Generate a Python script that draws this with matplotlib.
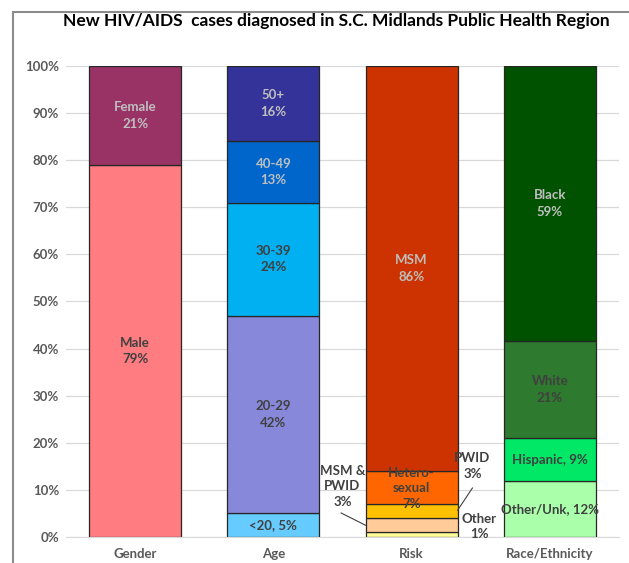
import matplotlib
matplotlib.use('Agg')
import matplotlib.pyplot as plt
from matplotlib.patches import Rectangle
import numpy as np

plt.rcParams['font.family'] = ['Lato', 'DejaVu Sans']

# categories on the x axis
categories = ['Gender', 'Age', 'Risk', 'Race/Ethnicity']

# stacked segments for each category, bottom to top (percent of cases)
gender_values = [79, 21]
gender_labels = ['Male\n79%', 'Female\n21%']
gender_colors = ['#FF7C80', '#993366']
gender_text = ['#404040', '#BFBFBF']

age_values = [5, 42, 24, 13, 16]
age_labels = ['<20, 5%', '20-29\n42%', '30-39\n24%', '40-49\n13%', '50+\n16%']
age_colors = ['#66CCFF', '#8888DA', '#00B0F0', '#0066CC', '#333399']
age_text = ['#404040', '#404040', '#404040', '#BFBFBF', '#BFBFBF']

risk_values = [1, 3, 3, 7, 86]
risk_labels = ['Other\n1%', 'MSM &\nPWID\n3%', 'PWID\n3%', 'Hetero-\nsexual\n7%', 'MSM\n86%']
risk_colors = ['#FFFF99', '#FFCC99', '#FFC000', '#FF6600', '#CC3300']
risk_text = ['#404040', '#404040', '#404040', '#404040', '#BFBFBF']

race_values = [11.9, 9.1, 20.6, 58.4]
race_labels = ['Other/Unk, 12%', 'Hispanic, 9%', 'White\n21%', 'Black\n59%']
race_colors = ['#AAFFAA', '#00E865', '#2E7A2E', '#005200']
race_text = ['#404040', '#404040', '#404040', '#BFBFBF']

groups = [
    (gender_values, gender_labels, gender_colors, gender_text),
    (age_values, age_labels, age_colors, age_text),
    (risk_values, risk_labels, risk_colors, risk_text),
    (race_values, race_labels, race_colors, race_text),
]

fig = plt.figure(figsize=(6.29, 5.63), dpi=100)
ax = fig.add_axes([0.105, 0.0462, 0.879, 0.8366])

width = 0.667
fs = 9.5
for i, (vals, labs, cols, tcols) in enumerate(groups):
    bottom = 0
    for j, (v, lab, c, tc) in enumerate(zip(vals, labs, cols, tcols)):
        ax.bar(i, v, width, bottom=bottom, color=c, edgecolor='#262626', linewidth=0.9, zorder=2)
        mid = bottom + v / 2
        kw = dict(ha='center', va='center', fontsize=fs, fontweight='bold', color=tc, zorder=4)
        if i == 2 and j == 0:
            ax.text(i + 0.49, 2.3, lab, linespacing=1.3, **kw)
        elif i == 2 and j == 1:
            ax.text(i - 0.5, 10.8, lab, linespacing=1.35, **kw)
            ax.plot([i - 0.51, i - width / 2], [5.1, mid], color='#404040', lw=0.8, zorder=4)
        elif i == 2 and j == 2:
            ax.text(i + 0.44, 15.1, lab, linespacing=1.35, **kw)
            ax.plot([i + 0.44, i + width / 2], [10.4, 5.7], color='#404040', lw=0.8, zorder=4)
        elif i == 2 and j == 3:
            ax.text(i, 10.4, lab, linespacing=1.35, **kw)
        else:
            ax.text(i, mid, lab, linespacing=1.45, **kw)
        bottom += v

ax.set_xlim(-0.5, 3.5)
ax.set_ylim(0, 100)
ax.set_yticks(np.arange(0, 101, 10))
ax.set_yticklabels([f'{t}%' for t in range(0, 101, 10)])
ax.set_xticks(range(4))
ax.set_xticklabels(categories)
ax.grid(axis='y', color='#D9D9D9', lw=0.9, zorder=0)
for s in ['top', 'right', 'left']:
    ax.spines[s].set_visible(False)
ax.spines['bottom'].set_color('#D9D9D9')
ax.tick_params(axis='both', length=0, labelsize=9.5, colors='#595959', pad=5)
ax.tick_params(axis='x', pad=8)
for t in ax.get_xticklabels() + ax.get_yticklabels():
    t.set_fontweight('bold')

fig.text(0.534, 0.963, 'New HIV/AIDS  cases diagnosed in S.C. Midlands Public Health Region',
         ha='center', va='center', fontsize=12.5, fontweight='bold', color='black')

# outer frame
fig.patches.append(Rectangle((13 / 629, -0.05), 1.2, 1 - 12 / 563 + 0.05, transform=fig.transFigure,
                             fill=False, edgecolor='#8C8C8C', lw=1.5))

fig.savefig('out.png', dpi=100)
